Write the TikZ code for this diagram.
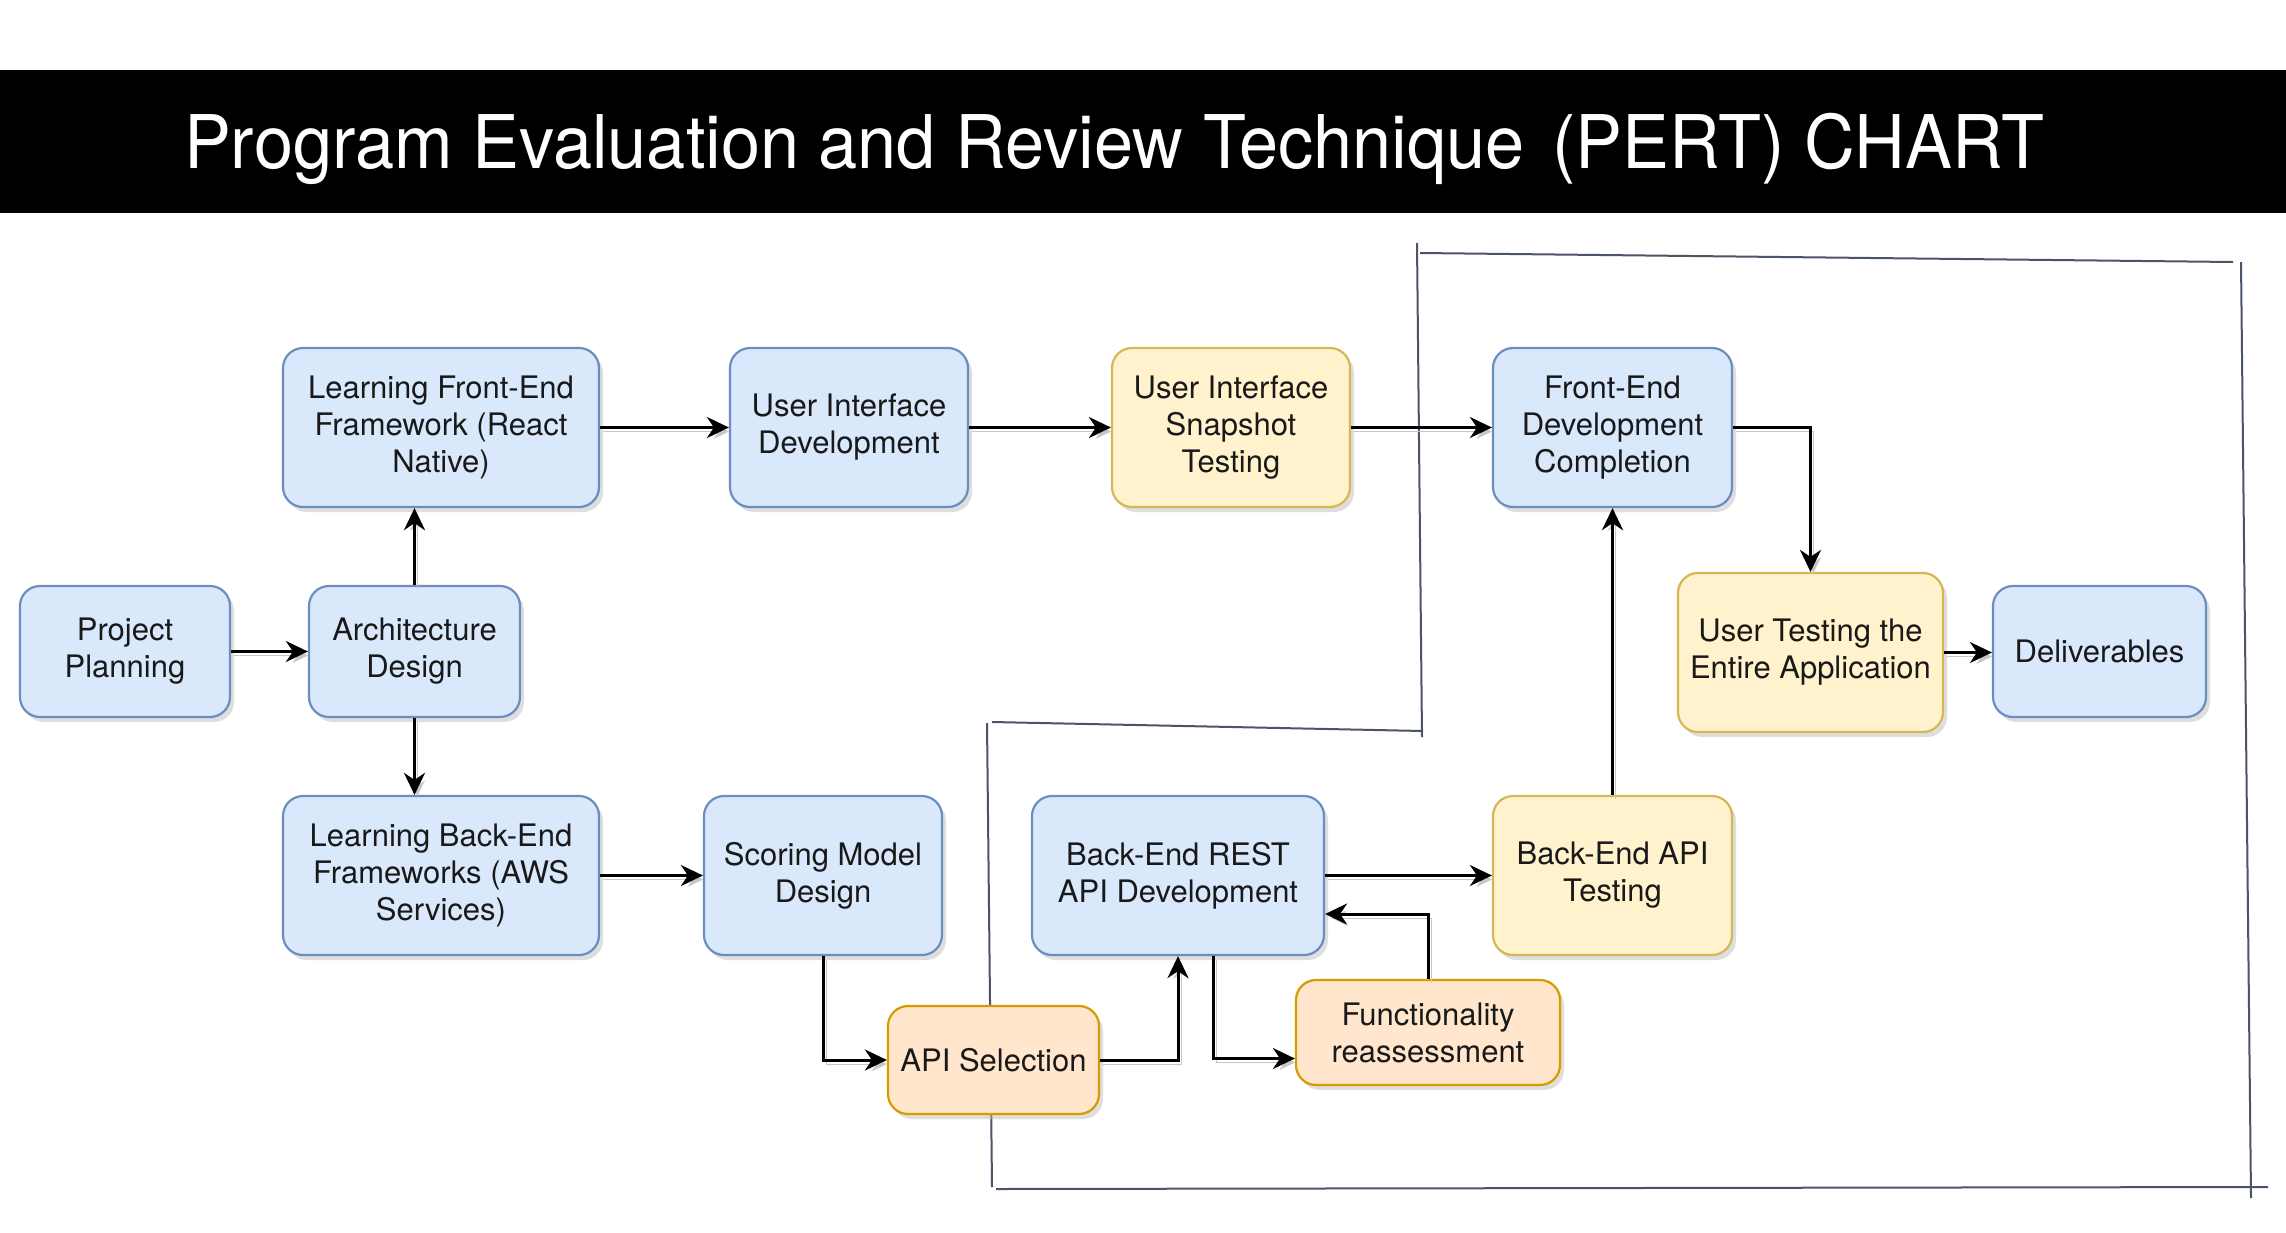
\documentclass[tikz,border=0pt]{standalone}
\usepackage{fontspec}
\setmainfont{TeX Gyre Heros}
\usetikzlibrary{arrows.meta,shadows}
\definecolor{bluefill}{HTML}{DAE8FC}
\definecolor{blueline}{HTML}{6C8EBF}
\definecolor{yelfill}{HTML}{FFF2CC}
\definecolor{yelline}{HTML}{D6B656}
\definecolor{orfill}{HTML}{FFE6CC}
\definecolor{orline}{HTML}{D79B00}
\definecolor{framecol}{HTML}{4A5568}
\tikzset{
  box/.style={rounded corners=20pt, line width=2.2pt, align=center,
    font=\fontsize{31}{37}\selectfont, inner sep=0pt, text=black!90,
    drop shadow={shadow xshift=4pt,shadow yshift=-5pt,fill=black!25}},
  bluebox/.style={box, fill=bluefill, draw=blueline},
  yelbox/.style={box, fill=yelfill, draw=yelline},
  orbox/.style={box, fill=orfill, draw=orline},
  tip/.style={-{Stealth[length=22pt,width=21pt,inset=7pt]}},
  conn/.style={tip, line width=3pt,
    preaction={draw=black!22, tip,
      transform canvas={xshift=3pt,yshift=-4pt}}},
  frameline/.style={draw=framecol, line width=2pt}
}
\begin{document}
\begin{tikzpicture}[x=1pt,y=1pt]
\useasboundingbox (0,0) rectangle (2286,-1232);
\fill[white] (0,0) rectangle (2286,-1232);
% title bar
\fill[black] (0,-70) rectangle (2286,-213);
\node[anchor=base, text=white, font=\fontsize{74}{88}\selectfont, inner sep=0pt] (title) at (1114,-168)
  {\scalebox{0.95}[1]{Program Evaluation and Review Technique\hspace{8pt} (PERT) CHART}};

% boundary lines
\draw[frameline] (1417,-243) -- (1422,-737);
\draw[frameline] (1420,-253) -- (2233,-262);
\draw[frameline] (2241,-262) -- (2251,-1198);
\draw[frameline] (996,-1189) -- (2268,-1187);
\draw[frameline] (987,-723) -- (992,-1187);
\draw[frameline] (992,-722) -- (1423,-731);

% nodes
\node[bluebox, minimum width=210pt, minimum height=131pt] (pp) at (125,-651.5) {Project\\Planning};
\node[bluebox, minimum width=211pt, minimum height=131pt] (arch) at (414.5,-651.5) {Architecture\\Design};
\node[bluebox, minimum width=316pt, minimum height=159pt] (lfe) at (441,-427.5) {Learning Front-End\\Framework (React\\Native)};
\node[bluebox, minimum width=238pt, minimum height=159pt] (uid) at (849,-427.5) {User Interface\\Development};
\node[yelbox, minimum width=238pt, minimum height=159pt] (uist) at (1231,-427.5) {User Interface\\Snapshot\\Testing};
\node[bluebox, minimum width=239pt, minimum height=159pt] (fedc) at (1612.5,-427.5) {Front-End\\Development\\Completion};
\node[yelbox, minimum width=265pt, minimum height=159pt] (utea) at (1810.5,-652.5) {User Testing the\\Entire Application};
\node[bluebox, minimum width=213pt, minimum height=131pt] (deliv) at (2099.5,-651.5) {Deliverables};
\node[bluebox, minimum width=316pt, minimum height=159pt] (lbe) at (441,-875.5) {Learning Back-End\\Frameworks (AWS\\Services)};
\node[bluebox, minimum width=238pt, minimum height=159pt] (smd) at (823,-875.5) {Scoring Model\\Design};
\node[bluebox, minimum width=292pt, minimum height=159pt] (berad) at (1178,-875.5) {Back-End REST\\API Development};
\node[yelbox, minimum width=239pt, minimum height=159pt] (beat) at (1612.5,-875.5) {Back-End API\\Testing};
\node[orbox, minimum width=211pt, minimum height=108pt] (apis) at (993.5,-1060) {API Selection};
\node[orbox, minimum width=264pt, minimum height=105pt] (fr) at (1428,-1032.5) {Functionality\\reassessment};

% connectors
\draw[conn] (pp.east) -- (arch.west);
\draw[conn] (arch.north) -- (arch.north |- lfe.south);
\draw[conn] (arch.south) -- (arch.south |- lbe.north);
\draw[conn] (lfe.east) -- (uid.west);
\draw[conn] (uid.east) -- (uist.west);
\draw[conn] (uist.east) -- (fedc.west);
\draw[conn] (fedc.east) -| (utea.north);
\draw[conn] (utea.east) -- (utea.east -| deliv.west);
\draw[conn] (lbe.east) -- (smd.west);
\draw[conn] (smd.south) |- (apis.west);
\draw[conn] (apis.east) -| (berad.south);
\draw[conn] ([xshift=35pt]berad.south) |- ([yshift=-26pt]fr.west);
\draw[conn] (fr.north) |- ([yshift=-38.5pt]berad.east);
\draw[conn] (berad.east) -- (beat.west);
\draw[conn] (beat.north) -- (fedc.south);
\end{tikzpicture}
\end{document}
